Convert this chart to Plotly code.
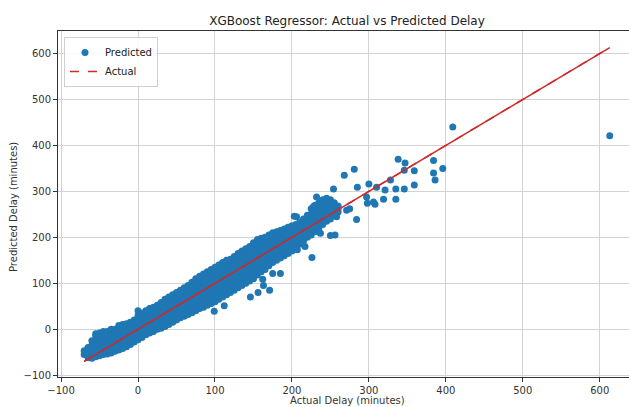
import plotly.graph_objects as go

# ---- data ----
# dense band: each actual value with the predicted values seen at that actual value
band_actual = [-70, -65, -60, -55, -50, -45, -40, -35, -30, -25, -20, -15, -10, -5,
               0, 5, 10, 15, 20, 25, 30, 35, 40, 45, 50, 55, 60, 65, 70, 75, 80, 85,
               90, 95, 100, 105, 110, 115, 120, 125, 130, 135, 140, 145, 150, 155,
               160, 165, 170, 175, 180, 185, 190, 195, 200, 205, 210, 215, 220, 225,
               230, 235, 240, 245, 250, 255, 260]
band_predicted = [
    [-55, -47],
    [-62, -53, -44, -40],
    [-63, -54, -45, -35, -25],
    [-60, -51, -42, -33, -24, -15, -10],
    [-58, -49, -40, -31, -22, -14, -8],
    [-55, -46, -37, -28, -19, -11, -5],
    [-54, -45, -36, -27, -18, -10, -5],
    [-52, -43, -34, -25, -16, -8, 0],
    [-48, -39, -30, -21, -12, -4, 0],
    [-45, -36, -27, -18, -9, 0, 8],
    [-42, -33, -24, -15, -6, 3, 10],
    [-38, -29, -20, -11, -2, 6, 12],
    [-33, -24, -15, -6, 3, 10, 15],
    [-28, -19, -10, -1, 8, 15, 20],
    [-23, -14, -5, 4, 13, 22, 30, 40],
    [-18, -9, 0, 9, 18, 27, 35],
    [-12, -3, 6, 15, 24, 33, 40],
    [-8, 1, 10, 19, 28, 37, 45],
    [-5, 4, 13, 22, 31, 40, 48],
    [0, 9, 18, 27, 36, 45, 52],
    [2, 11, 20, 29, 38, 47, 58],
    [6, 15, 24, 33, 42, 51, 60, 65],
    [10, 19, 28, 37, 46, 55, 63, 70],
    [15, 24, 33, 42, 51, 60, 68, 75],
    [20, 29, 38, 47, 56, 65, 73, 80],
    [25, 34, 43, 52, 61, 70, 78, 85],
    [28, 37, 46, 55, 64, 73, 82, 90],
    [32, 41, 50, 59, 68, 77, 86, 95],
    [36, 45, 54, 63, 72, 81, 90, 98, 102],
    [40, 49, 58, 67, 76, 85, 94, 103, 110],
    [45, 54, 63, 72, 81, 90, 99, 108, 115],
    [48, 57, 66, 75, 84, 93, 102, 111, 120],
    [52, 61, 70, 79, 88, 97, 106, 115, 125],
    [56, 65, 74, 83, 92, 101, 110, 120, 130],
    [60, 69, 78, 87, 96, 105, 114, 124, 135],
    [65, 74, 83, 92, 101, 110, 120, 130, 140],
    [70, 79, 88, 97, 106, 115, 125, 135, 145],
    [75, 84, 93, 102, 111, 120, 130, 140, 150],
    [80, 89, 98, 107, 116, 125, 134, 143, 152],
    [85, 94, 103, 112, 121, 130, 140, 150, 158],
    [90, 99, 108, 117, 126, 135, 145, 155, 165],
    [95, 104, 113, 122, 131, 140, 150, 160, 170],
    [100, 109, 118, 127, 136, 145, 155, 165, 175],
    [105, 114, 123, 132, 141, 150, 160, 170, 180],
    [110, 119, 128, 137, 146, 155, 165, 176, 188],
    [118, 127, 136, 145, 154, 163, 173, 184, 195],
    [125, 134, 143, 152, 161, 170, 180, 190, 198],
    [130, 139, 148, 157, 166, 175, 184, 193, 200],
    [138, 147, 156, 165, 174, 183, 192, 200, 205],
    [145, 154, 163, 172, 181, 190, 199, 210],
    [150, 159, 168, 177, 186, 195, 204, 212],
    [155, 164, 173, 182, 191, 200, 208, 215],
    [160, 169, 178, 187, 196, 205, 212, 218],
    [165, 174, 183, 192, 201, 210, 217, 222],
    [170, 179, 188, 197, 206, 215, 225],
    [178, 187, 196, 205, 214, 222, 228],
    [185, 194, 203, 212, 221, 232],
    [192, 201, 210, 219, 228, 240],
    [200, 209, 218, 227, 236, 248],
    [205, 214, 223, 232, 241, 250, 262],
    [212, 221, 230, 239, 248, 258, 270],
    [220, 229, 238, 247, 256, 266, 275],
    [228, 237, 246, 255, 264, 273, 282],
    [235, 244, 253, 262, 271, 280],
    [240, 249, 258, 267, 276, 282],
    [248, 257, 266, 275],
    [255, 262, 268],
]

# scattered points away from the dense band
outlier_actual = [409, 613, 338, 347, 384, 396, 384, 386, 359, 346, 359, 346,
                  335, 335, 319, 308, 321, 328, 310, 300, 298, 306, 297, 281,
                  268, 285, 254, 284, 271, 275, 258, 256, 226, 245, 232, 228,
                  206, 99, 112, 146, 156, 163, 171, 175, 185, 162, 207, 217,
                  237, 250, 227, 203]
outlier_predicted = [440, 421, 370, 362, 367, 350, 340, 325, 345, 346, 314, 305,
                     305, 283, 283, 272, 303, 325, 309, 316, 274, 277, 288, 348,
                     335, 309, 305, 239, 259, 262, 245, 205, 156, 285, 288, 267,
                     245, 39, 51, 70, 80, 95, 85, 121, 121, 109, 173, 180,
                     209, 204, 224, 246]

x_ticks = [-100, 0, 100, 200, 300, 400, 500, 600]
y_ticks = [-100, 0, 100, 200, 300, 400, 500, 600]

# ---- assemble ----
actual = []
predicted = []
for a, preds in zip(band_actual, band_predicted):
    for p in preds:
        actual.append(a)
        predicted.append(p)
actual += outlier_actual
predicted += outlier_predicted

line_vals = [min(actual), max(actual)]

BLUE = "#1f77b4"
RED = "#cf2a2a"
FONT = "DejaVu Sans"

fig = go.Figure()
fig.add_trace(go.Scatter(
    x=actual, y=predicted, mode="markers", name="Predicted",
    marker=dict(color=BLUE, size=7, line=dict(width=0)),
))
fig.add_trace(go.Scatter(
    x=line_vals, y=line_vals, mode="lines", name="Actual",
    line=dict(color=RED, width=1.5, dash="dash"),
))
fig.add_trace(go.Scatter(
    x=line_vals, y=line_vals, mode="lines", showlegend=False,
    line=dict(color=RED, width=1.5),
))

W, H = 629, 407
L, R, T, B = 58, 0, 31, 30
pw, ph = W - L - R, H - T - B

def px_to_paper_x(px):
    return (px - L) / pw

def px_to_paper_y(py):
    return (H - B - py) / ph

axis_common = dict(
    showgrid=True, gridcolor="#d3d3d3", gridwidth=1,
    zeroline=False, showline=True, linecolor="#333333", linewidth=1,
    ticks="outside", ticklen=4, tickcolor="#333333", tickwidth=1,
    tickfont=dict(family=FONT, size=10, color="#333333"),
)

fig.update_layout(
    width=W, height=H, autosize=False,
    margin=dict(l=L, r=R, t=T, b=B),
    plot_bgcolor="white", paper_bgcolor="white",
    font=dict(family=FONT, size=10, color="#333333"),
    title=dict(text="XGBoost Regressor: Actual vs Predicted Delay",
               x=347 / W, xref="container", xanchor="center",
               y=1 - 21 / H, yref="container", yanchor="middle",
               font=dict(family=FONT, size=12, color="#222222")),
    xaxis=dict(range=[-104, 638], tickvals=x_ticks, mirror=True, **axis_common),
    yaxis=dict(range=[-104, 649], tickvals=y_ticks, mirror=False, **axis_common),
    legend=dict(x=px_to_paper_x(64), y=px_to_paper_y(37), xanchor="left", yanchor="top",
                bgcolor="rgba(255,255,255,0.85)", bordercolor="#d0d0d0", borderwidth=1,
                font=dict(family=FONT, size=10, color="#222222"),
                tracegroupgap=0, itemwidth=30),
    showlegend=True,
    annotations=[
        dict(text="Actual Delay (minutes)", xref="paper", yref="paper",
             x=px_to_paper_x(347), y=px_to_paper_y(400), xanchor="center", yanchor="middle",
             showarrow=False, font=dict(family=FONT, size=10, color="#333333")),
        dict(text="Predicted Delay (minutes)", xref="paper", yref="paper",
             x=px_to_paper_x(13), y=px_to_paper_y(207), xanchor="center", yanchor="middle",
             textangle=-90, showarrow=False, font=dict(family=FONT, size=10, color="#333333")),
    ],
)

fig.write_html(
    "out.html",
    config={"displayModeBar": False},
    post_script="document.body.style.margin='0';document.body.style.overflow='hidden';",
)
